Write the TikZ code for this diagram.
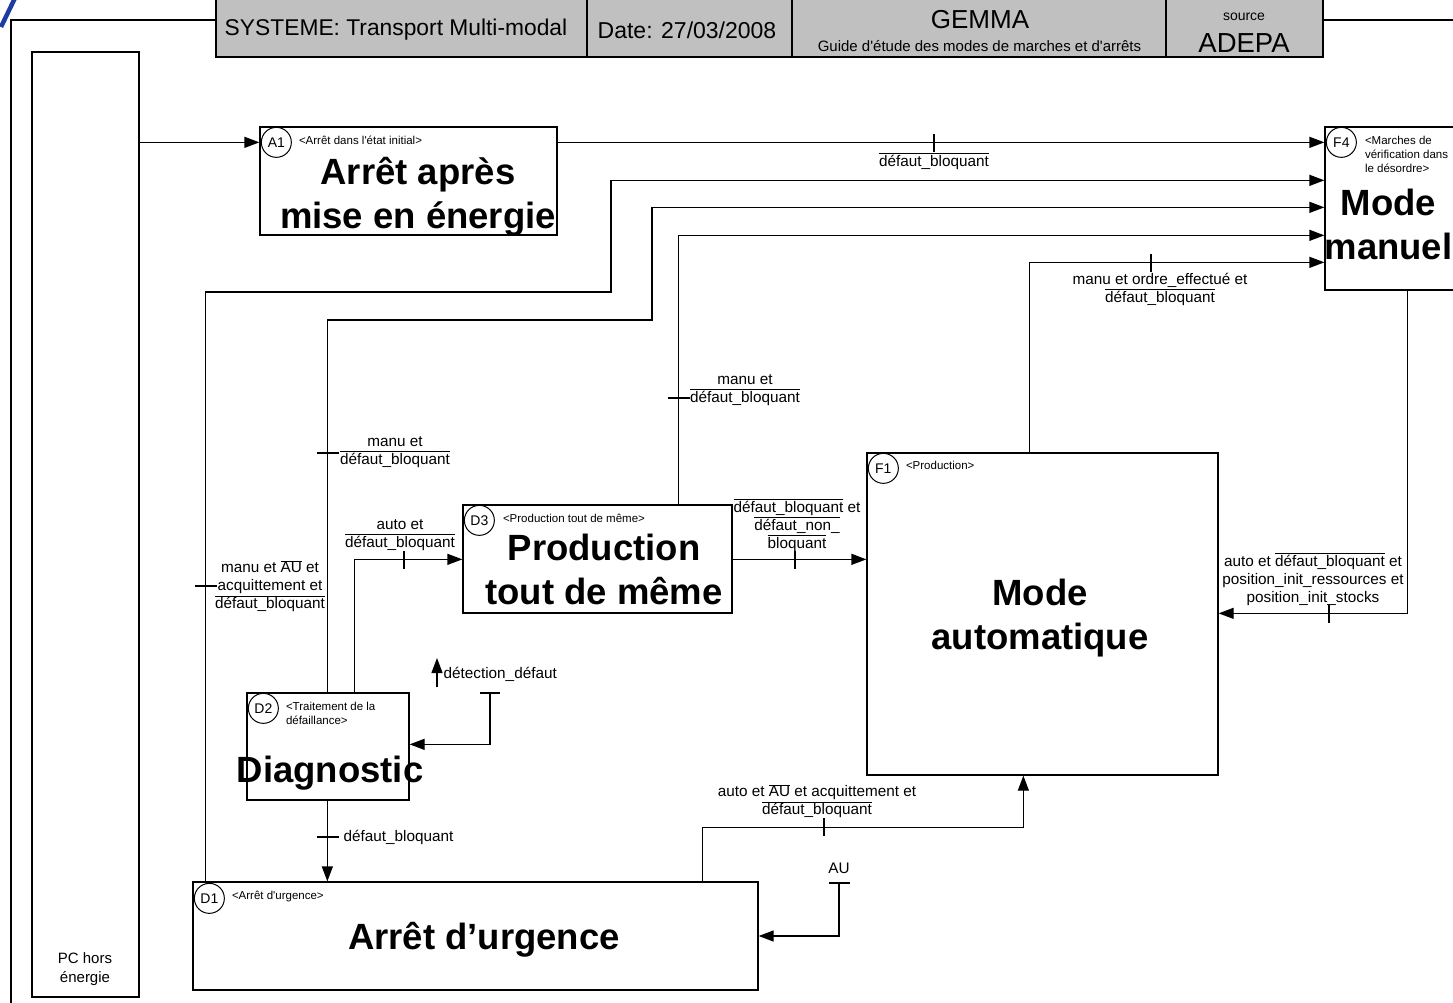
\documentclass[tikz,border=0pt]{standalone}
\usepackage{fontspec}
\setmainfont{Liberation Sans}
\usetikzlibrary{arrows.meta,calc}

\definecolor{hdrgray}{RGB}{192,192,192}
\definecolor{logoblue}{RGB}{30,60,160}

\newcommand\fbig{\fontsize{36.5}{44}\selectfont\bfseries}
\newcommand\flbl{\fontsize{15.3}{18}\selectfont}
\newcommand\ftag{\fontsize{11.5}{14}\selectfont}
\newcommand\fcirc{\fontsize{14}{16}\selectfont}
\newcommand\ovl[1]{$\overline{\hbox{#1}}$}
\newcommand\tickv[1]{\draw ($(#1)+(0,-9)$) -- ($(#1)+(0,9)$);}
\newcommand\tickh[1]{\draw ($(#1)+(-11,0)$) -- ($(#1)+(11,0)$);}

\begin{document}
\begin{tikzpicture}[x=1pt,y=-1pt,
  line width=1.3pt,
  stepbox/.style={draw, rectangle, inner sep=0pt, line width=1.3pt},
  tagc/.style={draw, circle, fill=white, minimum size=30pt, inner sep=0pt, line width=1pt, font=\fcirc},
  tagl/.style={anchor=north west, align=left, inner sep=0pt, font=\ftag},
  title/.style={align=center, inner sep=0pt, font=\fbig},
  lbl/.style={align=center, inner sep=0pt, font=\flbl},
  arr/.style={-{Triangle[length=15pt,width=11pt]}},
  hdr/.style={inner sep=0pt, font=\fontsize{23}{26}\selectfont}]

\useasboundingbox (0,0) rectangle (1453,1003);
\clip (0,0) rectangle (1453,1003);

% logo fragment and outer frame
\draw[logoblue, line width=4.5pt] (15,-2) -- (1,27);
\draw (11,1010) -- (11,20) -- (216,20);
\draw (1323,20) -- (1460,20);

% title block
\filldraw[fill=hdrgray, line width=1.5pt] (216,-5) rectangle (1323,57);
\draw[line width=1.5pt] (587,-5) -- (587,57) (792,-5) -- (792,57) (1166,-5) -- (1166,57);
\node[hdr, font=\fontsize{22.8}{26}\selectfont] (hsys) at (396,30) {SYSTEME: Transport Multi-modal};
\node[hdr] (hdate) at (687,30) {Date: 27/03/2008};
\node[hdr, font=\fontsize{26}{28}\selectfont] (hgem) at (980,20) {GEMMA};
\node[hdr, font=\fontsize{15}{17}\selectfont] (hguide) at (979.5,46) {Guide d\textquotesingle étude des modes de marches et d\textquotesingle arrêts};
\node[hdr, font=\fontsize{14}{16}\selectfont] (hsrc) at (1244,17) {source};
\node[hdr, font=\fontsize{27.5}{30}\selectfont] (hadepa) at (1244,43) {ADEPA};

% states
\node[stepbox, minimum width=107pt, minimum height=945pt] (PC) at (85.5,524.5) {};
\node[lbl, font=\fontsize{15}{19}\selectfont] (PCt) at (85,969.5) {PC hors\\énergie};

\node[stepbox, minimum width=297pt, minimum height=108pt] (A1) at (408.5,181) {};
\node[tagc] (A1c) at ($(A1.north west)+(17,16)$) {A1};
\node[tagl] (A1s) at ($(A1.north west)+(39,9)$) {<Arrêt dans l\textquotesingle état initial>};
\node[title] (A1t) at (418,197) {Arrêt après\\mise en énergie};

\node[stepbox, minimum width=160pt, minimum height=163pt] (F4) at (1405,208.5) {};
\node[tagc] (F4c) at ($(F4.north west)+(17,16)$) {F4};
\node[tagl] (F4s) at ($(F4.north west)+(40,9)$) {<Marches de\\vérification dans\\le désordre>};
\node[title] (F4t) at (1388.5,224) {Mode\\manuel};

\node[stepbox, minimum width=351pt, minimum height=322pt] (F1) at (1042.5,614) {};
\node[tagc] (F1c) at ($(F1.north west)+(17,16)$) {F1};
\node[tagl] (F1s) at ($(F1.north west)+(39,8)$) {<Production>};
\node[title] (F1t) at (1040,618) {Mode\\automatique};

\node[stepbox, minimum width=269pt, minimum height=108pt] (D3) at (597.5,559) {};
\node[tagc] (D3c) at ($(D3.north west)+(17,16)$) {D3};
\node[tagl] (D3s) at ($(D3.north west)+(40,9)$) {<Production tout de même>};
\node[title] (D3t) at (604,569.5) {Production\\tout de même};

\node[stepbox, minimum width=162pt, minimum height=107pt] (D2) at (328,746.5) {};
\node[tagc] (D2c) at ($(D2.north west)+(17,16)$) {D2};
\node[tagl] (D2s) at ($(D2.north west)+(39,9)$) {<Traitement de la\\défaillance>};
\node[title] (D2t) at (330,773) {Diagnostic};

\node[stepbox, minimum width=565pt, minimum height=108pt] (D1) at (475.5,936) {};
\node[tagc] (D1c) at ($(D1.north west)+(17,17)$) {D1};
\node[tagl] (D1s) at ($(D1.north west)+(39,9)$) {<Arrêt d\textquotesingle urgence>};
\node[title] (D1t) at (484,940) {Arrêt d’urgence};

% connectors
\draw[arr] ($(PC.north east)+(0,91)$) -- ($(A1.north west)+(0,16)$);
\draw[arr] ($(A1.north east)+(0,16)$) -- ($(F4.north west)+(0,16)$);
\draw[arr] ($(D1.north west)+(13,0)$) |- (611,292) |- ($(F4.north west)+(0,54)$);
\draw[arr] ($(D2.north west)+(81,0)$) |- (652,320) |- ($(F4.north west)+(0,81)$);
\draw[arr] ($(D3.north west)+(216,0)$) |- ($(F4.north west)+(0,109)$);
\draw[arr] ($(F1.north west)+(163,0)$) |- ($(F4.north west)+(0,136)$);
\draw[arr] ($(F4.south west)+(83,0)$) |- ($(F1.north east)+(0,161)$);
\draw[arr] ($(D3.north east)+(0,55)$) -- ($(F1.north west)+(0,107)$);
\draw[arr] ($(D2.north west)+(108,0)$) |- ($(D3.north west)+(0,55)$);

\coordinate (detA) at (437,687);
\coordinate (detB) at (437,658);
\draw[arr] (detA) -- (detB);
\coordinate (ev) at (490,693);
\draw ($(ev)+(-10,0)$) -- ($(ev)+(10,0)$);
\draw[arr] (ev) |- ($(D2.north east)+(0,52)$);

\coordinate (dd) at ($(D2.south west)+(81,0)$);
\draw[arr] (dd) -- (dd |- D1.north);

\coordinate (m1) at ($(D1.north west)+(510,0)$);
\coordinate (m2) at ($(F1.south west)+(157,0)$);
\draw[arr] (m1) |- ($(m2)+(0,52)$) -- (m2);

\coordinate (au) at (839,883);
\draw ($(au)+(-10,0)$) -- ($(au)+(11,0)$);
\draw[arr] (au) |- (D1.east);

% receptivity ticks
\tickv{934,143}
\tickv{1151,263}
\tickv{1329,614}
\tickv{795,560}
\tickv{404,560}
\tickv{824,827}
\tickh{679,398}
\tickh{328,453}
\tickh{206,586}
\tickh{328,837}

% receptivities
\node[lbl] (r1) at (934,161) {\ovl{défaut\_bloquant}};
\node[lbl] (r2) at (1160,289) {manu et ordre\_effectué et\\\ovl{défaut\_bloquant}};
\node[lbl] (r3) at (745,390) {manu et\\\ovl{défaut\_bloquant}};
\node[lbl] (r4) at (395,452) {manu et\\\ovl{défaut\_bloquant}};
\node[lbl] (r5) at (270,586) {manu et \ovl{AU} et\\acquittement et\\\ovl{défaut\_bloquant}};
\node[lbl] (r6) at (400,535) {auto et\\\ovl{défaut\_bloquant}};
\node[lbl] (r7) at (797,525) {\ovl{défaut\_bloquant} et\\\ovl{défaut\_non\_}\\\ovl{bloquant}};
\node[lbl] (r8) at (1313,579) {auto et \ovl{défaut\_bloquant} et\\position\_init\_ressources et\\position\_init\_stocks};
\node[lbl, anchor=west] (r9) at (443,674) {détection\_défaut};
\node[lbl, anchor=west] (r10) at (343,837) {défaut\_bloquant};
\node[lbl] (r11) at (817,801) {auto et \ovl{AU} et acquittement et\\\ovl{défaut\_bloquant}};
\node[lbl] (r12) at (839,868) {AU};

\end{tikzpicture}
\end{document}
